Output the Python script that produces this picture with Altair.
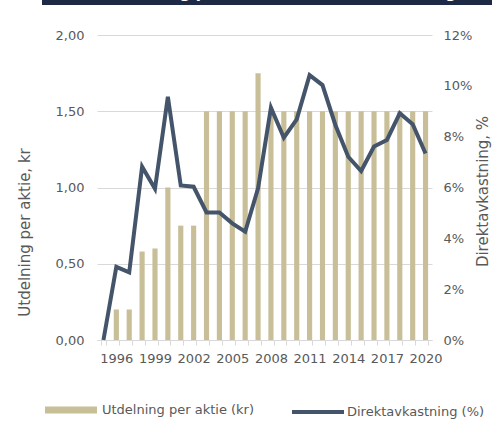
import altair as alt
import pandas as pd

years = [str(y) for y in range(1995, 2021)]
div_years = [str(y) for y in range(1996, 2021)]
dividend = [0.20, 0.20, 0.58, 0.60, 1.00, 0.75, 0.75, 1.50, 1.50, 1.50, 1.50, 1.75,
            1.50, 1.50, 1.50, 1.50, 1.50, 1.50, 1.50, 1.50, 1.50, 1.50, 1.50, 1.50, 1.50]
yield_pct = [0.0, 2.88, 2.66, 6.82, 5.95, 9.57, 6.08, 6.03, 5.02, 5.02, 4.59, 4.26, 5.97,
             9.14, 7.96, 8.68, 10.42, 10.03, 8.46, 7.21, 6.65, 7.61, 7.87, 8.92, 8.49, 7.34]
title_text = "Utdelning per aktie och direktavkastning"
bar_name = "Utdelning per aktie (kr)"
line_name = "Direktavkastning (%)"

FONT = "DejaVu Sans"
GREY = "#595959"
GRID = "#d9d9d9"
TAN = "#c8bf98"
NAVY = "#44546a"

bars_df = pd.DataFrame({"year": div_years, "div": dividend, "s": bar_name})
line_df = pd.DataFrame({"year": years, "yld": yield_pct, "s": line_name})

xscale = alt.Scale(domain=years, paddingInner=0.6, paddingOuter=0.3)
xaxis = alt.Axis(
    title=None, labelExpr="(toNumber(datum.value) - 1996) % 3 == 0 ? datum.label : ''",
    labelAngle=0, tickBand="extent", domainColor=GRID, tickColor=GRID, tickSize=5,
    labelPadding=7, labelColor=GREY, labelFontSize=13, labelFont=FONT, grid=False,
)

bars = alt.Chart(bars_df).mark_bar().encode(
    x=alt.X("year:O", scale=xscale, axis=xaxis),
    y=alt.Y("div:Q", scale=alt.Scale(domain=[0, 2]),
            axis=alt.Axis(values=[0, 0.5, 1, 1.5, 2],
                          labelExpr="replace(format(datum.value, '.2f'), '.', ',')",
                          domain=False, ticks=False, grid=True, gridColor=GRID,
                          labelPadding=13, labelColor=GREY, labelFontSize=13, labelFont=FONT,
                          title="Utdelning per aktie, kr", titleColor=GREY, titleFontSize=15,
                          titleFont=FONT, titleFontWeight="normal", titleAngle=270,
                          titleX=-68, titleY=197, titleAlign="center",
                          titleBaseline="alphabetic")),
    fill=alt.Fill("s:N", scale=alt.Scale(domain=[bar_name], range=[TAN]),
                  legend=alt.Legend(title=None, orient="none", legendX=-52, legendY=349,
                                    symbolType="M-1,-0.13L1,-0.13L1,0.13L-1,0.13Z",
                                    symbolSize=2704, symbolStrokeWidth=0, labelOffset=5,
                                    labelFontSize=13, labelFont=FONT, labelColor=GREY,
                                    padding=0)),
)

line = alt.Chart(line_df).mark_line(strokeWidth=4).encode(
    x=alt.X("year:O", scale=xscale, axis=xaxis),
    y=alt.Y("yld:Q", scale=alt.Scale(domain=[0, 12]),
            axis=alt.Axis(orient="right", values=[0, 2, 4, 6, 8, 10, 12],
                          labelExpr="datum.value + '%'", domain=False, ticks=False, grid=False,
                          labelPadding=11, labelColor=GREY, labelFontSize=13, labelFont=FONT,
                          title="Direktavkastning, %", titleColor=GREY, titleFontSize=15,
                          titleFont=FONT, titleFontWeight="normal", titleAngle=270,
                          titleX=55, titleY=156, titleAlign="center",
                          titleBaseline="alphabetic")),
    stroke=alt.Stroke("s:N", scale=alt.Scale(domain=[line_name], range=[NAVY]),
                      legend=alt.Legend(title=None, orient="none", legendX=193, legendY=349,
                                        symbolType="stroke", symbolSize=2704,
                                        symbolStrokeWidth=4, labelOffset=1,
                                        labelFontSize=13, labelFont=FONT, labelColor=GREY,
                                        padding=0)),
)

title_df = pd.DataFrame({"t": [title_text]})
strip = alt.Chart(title_df).mark_rect(color="#1e2a45").encode(
    x=alt.value(-55), x2=alt.value(400), y=alt.value(-45), y2=alt.value(-30)
)
title = alt.Chart(title_df).mark_text(
    color="white", fontWeight="bold", fontSize=15, font=FONT, align="center",
    baseline="alphabetic"
).encode(x=alt.value(185), y=alt.value(-37), text="t:N")

chart = alt.layer(bars, line, strip, title).resolve_scale(
    y="independent", fill="independent", stroke="independent"
).properties(
    width=335, height=305,
    autosize=alt.AutoSizeParams(type="none"),
    padding={"left": 97, "top": 35, "right": 60, "bottom": 83},
).configure_view(stroke=None)

chart.save("out.html", embed_options={"renderer": "svg", "actions": False})
